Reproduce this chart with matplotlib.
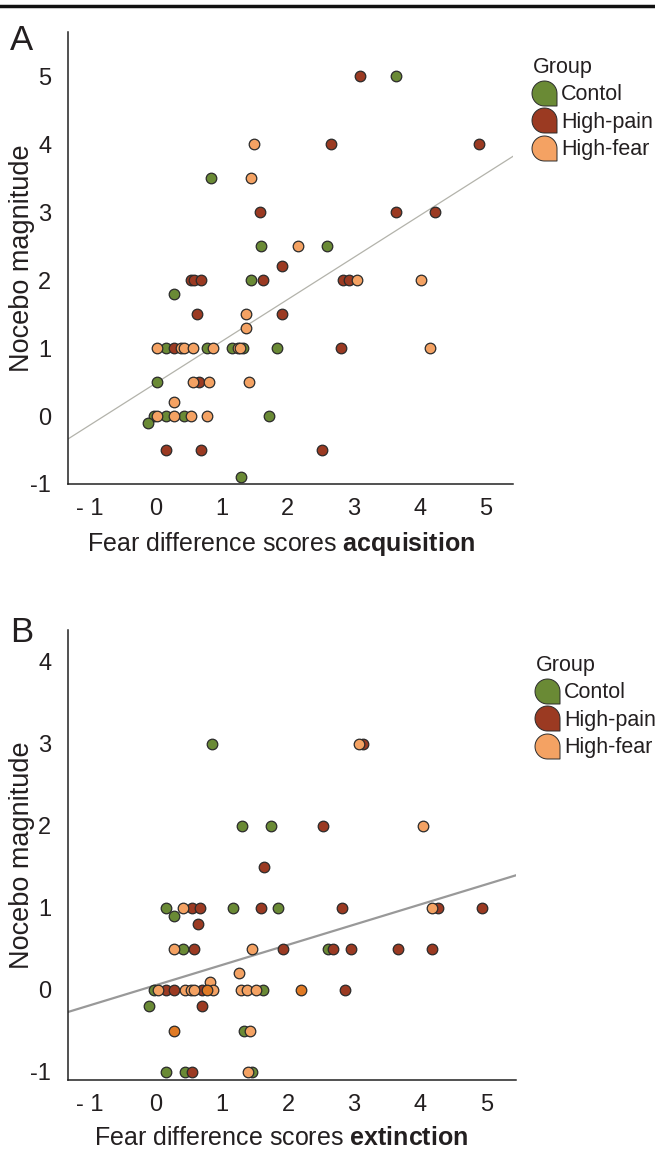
import numpy as np
import matplotlib
matplotlib.use("Agg")
import matplotlib.pyplot as plt
from matplotlib.path import Path
from matplotlib.lines import Line2D

plt.rcParams['font.family'] = ['Liberation Sans', 'DejaVu Sans']
plt.rcParams['mathtext.fontset'] = 'custom'
plt.rcParams['mathtext.rm'] = 'Liberation Sans'
plt.rcParams['mathtext.bf'] = 'Liberation Sans:bold'

# ---- panel A: acquisition ----
ctrl_a_x = [3.64, 0.84, 1.60, 2.59, 1.44, 0.27, 0.15, 0.77, 1.15, 1.32, 1.83, 0.02, -0.03, 0.15, 0.43, 1.72, -0.12, 1.29]
ctrl_a_y = [5.0, 3.5, 2.5, 2.5, 2.0, 1.8, 1.0, 1.0, 1.0, 1.0, 1.0, 0.5, 0.0, 0.0, 0.0, 0.0, -0.1, -0.9]
pain_a_x = [3.09, 2.66, 4.90, 1.58, 3.64, 4.23, 1.91, 0.53, 0.58, 0.69, 1.62, 2.84, 2.93, 0.62, 1.91, 0.27, 2.80, 0.66, 0.15, 0.69, 2.51]
pain_a_y = [5.0, 4.0, 4.0, 3.0, 3.0, 3.0, 2.2, 2.0, 2.0, 2.0, 2.0, 2.0, 2.0, 1.5, 1.5, 1.0, 1.0, 0.5, -0.5, -0.5, -0.5]
fear_a_x = [1.49, 1.44, 2.16, 3.05, 4.02, 1.37, 1.37, 0.02, 0.38, 0.43, 0.56, 0.86, 1.25, 1.28, 4.15, 0.56, 0.81, 1.41, 0.27, 0.02, 0.27, 0.53, 0.78]
fear_a_y = [4.0, 3.5, 2.5, 2.0, 2.0, 1.5, 1.3, 1.0, 1.0, 1.0, 1.0, 1.0, 1.0, 1.0, 1.0, 0.5, 0.5, 0.5, 0.2, 0.0, 0.0, 0.0, 0.0]
fit_a = (0.617, 0.483)   # slope, intercept

# ---- panel B: extinction ----
ctrl_b_x = [0.85, 1.30, 1.74, 0.15, 1.17, 1.85, 0.28, 0.41, 2.60, -0.03, 1.62, -0.11, 1.34, 0.15, 0.44, 1.46]
ctrl_b_y = [3.0, 2.0, 2.0, 1.0, 1.0, 1.0, 0.9, 0.5, 0.5, 0.0, 0.0, -0.2, -0.5, -1.0, -1.0, -1.0]
pain_b_x = [3.13, 2.53, 1.64, 0.54, 0.67, 1.59, 2.82, 4.27, 4.94, 0.63, 0.58, 1.93, 2.68, 2.95, 3.67, 4.18, 0.15, 0.28, 0.70, 2.86, 0.70, 0.54]
pain_b_y = [3.0, 2.0, 1.5, 1.0, 1.0, 1.0, 1.0, 1.0, 1.0, 0.8, 0.5, 0.5, 0.5, 0.5, 0.5, 0.5, 0.0, 0.0, 0.0, 0.0, -0.2, -1.0]
fear_b_x = [3.08, 4.05, 0.41, 4.18, 0.28, 1.46, 1.26, 0.82, 0.03, 0.44, 0.53, 0.58, 0.87, 1.29, 1.38, 1.52, 1.43, 1.39]
fear_b_y = [3.0, 2.0, 1.0, 1.0, 0.5, 0.5, 0.2, 0.1, 0.0, 0.0, 0.0, 0.0, 0.0, 0.0, 0.0, 0.0, -0.5, -1.0]
fear_dark_b_x = [2.19, 0.77, 0.28]
fear_dark_b_y = [0.0, 0.0, -0.5]
fit_b = (0.246, 0.057)

groups = ['Contol', 'High-pain', 'High-fear']
colors = ['#6a8a35', '#9b3a22', '#f4a263']
dark_orange = '#e07a24'
edge = '#2a2a2a'
txt = '#231f20'

# legend marker: rounded drop with squared lower-right corner
th = np.linspace(0, 1.5 * np.pi, 40)
verts = list(zip(np.cos(th), np.sin(th))) + [(1, -1), (1, 0)]
codes = [Path.MOVETO] + [Path.LINETO] * (len(verts) - 2) + [Path.CLOSEPOLY]
drop = Path(verts, codes)

fig = plt.figure(figsize=(6.55, 11.52), dpi=100)
W, H = 655, 1152

def make_ax(left, top, right, bottom):
    return fig.add_axes([left / W, 1 - bottom / H, (right - left) / W, (bottom - top) / H])

axA = make_ax(68, 32, 513, 484)
axB = make_ax(68, 630, 516, 1080)

def panel(ax, data, fit, xlim, ylim, yticks, xlab_bold, line_col, line_w):
    for (x, y), c in zip(data, colors):
        ax.scatter(x, y, s=58, color=c, edgecolor=edge, linewidth=0.9, zorder=3)
    ax.set_xlim(*xlim)
    ax.set_ylim(*ylim)
    lx = np.array(xlim)
    ax.plot(lx, fit[0] * lx + fit[1], color=line_col, lw=line_w, zorder=2)
    ax.set_xticks([-1, 0, 1, 2, 3, 4, 5])
    ax.set_xticklabels(['- 1', '0', '1', '2', '3', '4', '5'])
    ax.set_yticks(yticks)
    ax.set_yticklabels([str(t) for t in yticks])
    ax.tick_params(length=0, labelsize=17, labelcolor=txt)
    ax.tick_params(axis='x', pad=10)
    ax.tick_params(axis='y', pad=12)
    for s in ['top', 'right']:
        ax.spines[s].set_visible(False)
    for s in ['left', 'bottom']:
        ax.spines[s].set_color('#222')
        ax.spines[s].set_linewidth(1.1)
    pw = ax.get_position().width * W
    ph = ax.get_position().height * H
    ax.set_ylabel('Nocebo magnitude', fontsize=19.5, color=txt, va='center')
    ax.yaxis.set_label_coords(-46 / pw, 0.5)
    ax.set_xlabel('Fear difference scores $\\mathbf{' + xlab_bold + '}$', fontsize=18, color=txt)
    ax.xaxis.set_label_coords(213 / pw, -46 / ph)
    handles = [Line2D([], [], marker=drop, ls='none', markersize=18, markerfacecolor=c,
                      markeredgecolor=edge, markeredgewidth=0.7) for c in colors]
    leg = ax.legend(handles, groups, title='Group', loc='upper left', bbox_to_anchor=(1.045, 0.945),
                    frameon=False, fontsize=15.5, title_fontsize=15.5, handlelength=1.0,
                    handletextpad=0.3, labelspacing=0.3, borderaxespad=0, borderpad=0,
                    alignment='left')
    for t in leg.get_texts():
        t.set_color(txt)
    leg.get_title().set_color(txt)

panel(axA, [(ctrl_a_x, ctrl_a_y), (pain_a_x, pain_a_y), (fear_a_x, fear_a_y)],
      fit_a, (-1.33, 5.41), (-1.0, 5.65), [-1, 0, 1, 2, 3, 4, 5], 'acquisition', '#b3b3ab', 0.9)
panel(axB, [(ctrl_b_x, ctrl_b_y), (pain_b_x, pain_b_y), (fear_b_x, fear_b_y)],
      fit_b, (-1.33, 5.45), (-1.10, 4.39), [-1, 0, 1, 2, 3, 4], 'extinction', '#999999', 1.6)
axB.scatter(fear_dark_b_x, fear_dark_b_y, s=58, color=dark_orange, edgecolor=edge, linewidth=0.9, zorder=4)

fig.text(10 / W, 1 - 40 / H, 'A', fontsize=25, color=txt, va='center', ha='left')
fig.text(10 / W, 1 - 632 / H, 'B', fontsize=25, color=txt, va='center', ha='left')
fig.add_artist(Line2D([0, 1], [1 - 6 / H, 1 - 6 / H], color='#111', lw=2.5, transform=fig.transFigure))

fig.savefig('out.png', dpi=100)
